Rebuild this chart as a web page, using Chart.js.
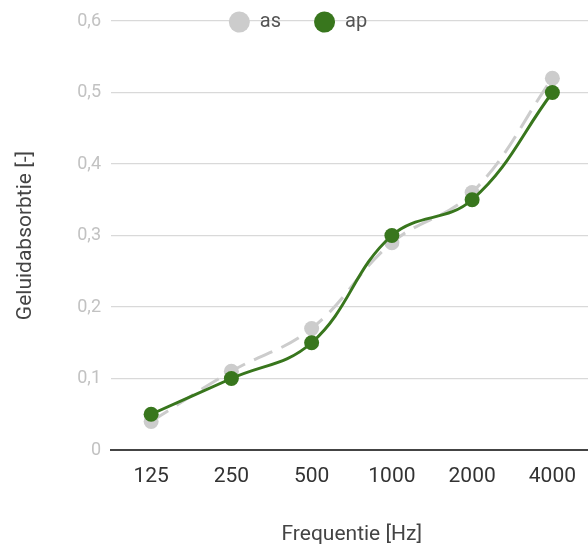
<!DOCTYPE html>
<html>
<head>
<meta charset="utf-8">
<script src="https://cdn.jsdelivr.net/npm/chart.js@4.4.0/dist/chart.umd.min.js"></script>
<style>
  html, body { margin: 0; padding: 0; background: #fff; overflow: hidden; }
  #wrap { position: relative; width: 600px; height: 547px; }
</style>
</head>
<body>
<div id="wrap"><canvas id="chart"></canvas></div>
<script>
// Frequenties (categorieen) en waarden per reeks
const frequenties = ['125', '250', '500', '1000', '2000', '4000'];
const asWaarden = [0.04, 0.11, 0.17, 0.29, 0.36, 0.52];
const apWaarden = [0.05, 0.10, 0.15, 0.30, 0.35, 0.50];
const yTickLabels = ['0', '0,1', '0,2', '0,3', '0,4', '0,5', '0,6'];

const FONT = 'Roboto, "Noto Sans", sans-serif';
const GROEN = '#38761d';
const GRIJS = '#cccccc';

// legenda over de bovenste rasterlijn leggen, zoals in het origineel
const legendaOpLijn = {
  id: 'legendaOpLijn',
  beforeInit(chart) {
    const origFit = chart.legend.fit;
    chart.legend.fit = function () {
      origFit.call(this);
      this.height = 0;
    };
  },
  afterLayout(chart) {
    const lg = chart.legend;
    const pad = lg.options.labels.padding;
    const fs = lg.options.labels.font.size;
    const midden = chart.chartArea.top + 1;
    lg.top = midden - fs / 2 - pad;
    lg.bottom = lg.top + 2 * pad + fs + 6; // anders knipt de legenda zichzelf weg
  }
};

const ctx = document.getElementById('chart').getContext('2d');
new Chart(ctx, {
  type: 'line',
  data: {
    labels: frequenties,
    datasets: [
      {
        label: 'as',
        data: asWaarden,
        order: 2,
        borderColor: GRIJS,
        backgroundColor: GRIJS,
        borderWidth: 3,
        borderDash: [20, 10],
        pointRadius: 7.5,
        pointBorderWidth: 0,
        pointBackgroundColor: GRIJS,
        tension: 0.4,
      },
      {
        label: 'ap',
        data: apWaarden,
        order: 1,
        borderColor: GROEN,
        backgroundColor: GROEN,
        borderWidth: 3,
        pointRadius: 7.5,
        pointBorderWidth: 0,
        pointBackgroundColor: GROEN,
        tension: 0.4,
      },
    ],
  },
  options: {
    responsive: true,
    maintainAspectRatio: false,
    animation: false,
    layout: { padding: { top: 21, right: 4, bottom: 0, left: 0 } },
    scales: {
      x: {
        offset: true,
        grid: { display: false, offset: true },
        border: { display: true, color: '#444', width: 2 },
        ticks: { color: '#333', padding: 6, font: { family: FONT, size: 21 } },
        title: {
          display: true, text: 'Frequentie [Hz]', color: '#444',
          font: { family: FONT, size: 21 }, padding: { top: 30, bottom: 0 }
        },
        afterFit(scale) { scale.height = 97; },
      },
      y: {
        min: 0,
        max: 0.6,
        grid: {
          drawTicks: false,
          color: (c) => (c.tick && c.tick.value === 0 ? 'rgba(0,0,0,0)' : '#d9d9d9'),
          lineWidth: 1.2,
        },
        border: { display: false },
        ticks: {
          stepSize: 0.1,
          padding: 10,
          color: '#c2c2c2',
          font: { family: FONT, size: 18 },
          callback: (v, i) => yTickLabels[i],
        },
        title: {
          display: true, text: 'Geluidabsorbtie [-]', color: '#444',
          font: { family: FONT, size: 21 }, padding: { top: 13, bottom: 0 }
        },
        afterFit(scale) { scale.width = 111; },
      },
    },
    plugins: {
      legend: {
        position: 'top',
        labels: {
          usePointStyle: true,
          pointStyle: 'circle',
          pointStyleWidth: 21,
          boxHeight: 15,
          padding: 33,
          color: '#555',
          font: { family: FONT, size: 20 },
          sort: (a, b) => a.datasetIndex - b.datasetIndex,
          generateLabels: (chart) =>
            Chart.defaults.plugins.legend.labels.generateLabels(chart).map((l) => ({
              ...l, lineWidth: 0, lineDash: [], strokeStyle: 'rgba(0,0,0,0)'
            })),
        },
      },
      tooltip: { enabled: false },
    },
  },
  plugins: [legendaOpLijn],
});
</script>
</body>
</html>
